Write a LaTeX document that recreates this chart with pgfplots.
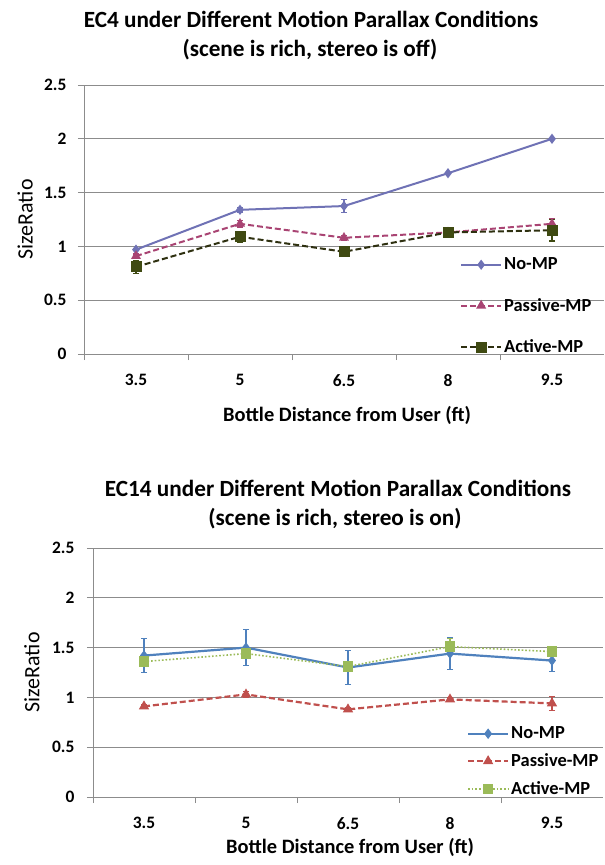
\documentclass[border=0pt]{standalone}
\usepackage{pgfplots}
\pgfplotsset{compat=1.18}
\usepackage{fontspec}
\setmainfont{Carlito}
\definecolor{tnomp}{HTML}{6F72B5}
\definecolor{tpas}{HTML}{A94473}
\definecolor{tact}{HTML}{2E3010}
\definecolor{tactm}{HTML}{3F4A12}
\definecolor{bnomp}{HTML}{4F81BD}
\definecolor{bpas}{HTML}{C0504D}
\definecolor{bact}{HTML}{9BBB59}
\definecolor{axgray}{HTML}{8C8C8C}
\newcommand\tklab[1]{\mbox{\fontsize{17.5}{20}\selectfont\bfseries #1}}

\pgfplotstableread{
x y e
0 0.97 0
1 1.34 0.02
2 1.375 0.06
3 1.68 0
4 2.00 0
}\topnomp
\pgfplotstableread{
x y e
0 0.91 0.02
1 1.21 0.03
2 1.08 0.02
3 1.13 0.02
4 1.21 0.05
}\toppas
\pgfplotstableread{
x y e
0 0.81 0.06
1 1.09 0.05
2 0.95 0.03
3 1.13 0.04
4 1.15 0.10
}\topact
\pgfplotstableread{
x y e
0 1.42 0.17
1 1.50 0.18
2 1.30 0.17
3 1.44 0.16
4 1.37 0.11
}\botnomp
\pgfplotstableread{
x y e
0 0.91 0.02
1 1.03 0.03
2 0.88 0.02
3 0.98 0.02
4 0.94 0.07
}\botpas
\pgfplotstableread{
x y e
0 1.36 0.03
1 1.44 0.03
2 1.31 0.03
3 1.51 0.08
4 1.46 0.03
}\botact

\pgfplotsset{
  common/.style={
    scale only axis,
    xmin=-0.5, xmax=4.5, ymin=0, ymax=2.5,
    xtick={0,1,2,3,4},
    xticklabels={\tklab{3.5},\tklab{5},\tklab{6.5},\tklab{8},\tklab{9.5}},
    major x tick style={draw=none},
    minor xtick={-0.5,0.5,1.5,2.5,3.5},
    minor x tick style={draw=axgray, line width=0.8bp},
    ytick={0,0.5,1,1.5,2,2.5},
    yticklabels={\tklab{0},\tklab{0.5},\tklab{1},\tklab{1.5},\tklab{2},\tklab{2.5}},
    major tick length=6bp, minor tick length=6bp,
    tick align=outside,
    ymajorgrids, grid style={draw=axgray, line width=0.8bp},
    axis x line*=bottom, axis y line*=left,
    axis line style={draw=axgray, line width=0.8bp, -},
    y tick style={draw=axgray, line width=0.8bp},
    /pgf/number format/assume math mode=true,
    xlabel style={font=\fontsize{20.5}{23}\selectfont\bfseries},
    ylabel style={font=\fontsize{22}{24}\selectfont},
    legend cell align=left,
    legend style={draw=none, fill=none, font=\fontsize{18.5}{21}\selectfont\bfseries},
    legend image code/.code={
      \draw[#1, mark=none] (0bp,0bp) -- (40bp,0bp);
      \draw[#1, solid] plot coordinates {(20bp,0bp)};
    },
    error bars/y dir=both, error bars/y explicit,
    error bars/error mark options={rotate=90, mark size=3bp, line width=1.3bp},
  },
  dsh/.style={dash pattern=on 6bp off 3bp},
}

\begin{document}
\begin{tikzpicture}
\useasboundingbox (0,0) rectangle (605bp,-865bp);

\node[font=\fontsize{23.3}{26}\selectfont\bfseries] at (311bp,-19bp) {EC4 under Different Motion Parallax Conditions};
\node[font=\fontsize{23.3}{26}\selectfont\bfseries] at (310bp,-50bp) {(scene is rich, stereo is off)};

\begin{axis}[common,
  at={(84bp,-354bp)}, anchor=south west,
  width=520bp, height=269bp,
  xticklabel style={yshift=-11bp},
  yticklabel style={xshift=-8bp},
  xlabel={Bottle Distance from User (ft)},
  xlabel style={at={(axis description cs:0.506,0)}, anchor=center, yshift=-61bp},
  ylabel={SizeRatio},
  ylabel style={at={(axis description cs:-0.113,0.5)}, anchor=center},
  legend style={at={(axis description cs:0.723,0.365)}, anchor=north west, row sep=23bp, inner sep=0pt},
]
\addplot[tnomp, line width=2bp, mark=diamond*, mark size=3.5bp, mark options={fill=tnomp, solid},
  error bars/error bar style={tnomp, line width=1.3bp, solid}]
  table[x=x, y=y, y error=e] {\topnomp};
\addlegendentry{No-MP}
\addplot[tpas, line width=2bp, dsh, mark=triangle*, mark size=3.8bp, mark options={fill=tpas, solid},
  error bars/error bar style={tpas, line width=1.3bp, solid}]
  table[x=x, y=y, y error=e] {\toppas};
\addlegendentry{Passive-MP}
\addplot[tact, line width=2bp, dsh, mark=square*, mark size=4.5bp, mark options={fill=tactm, draw=tactm, solid},
  error bars/error bar style={tactm, line width=1.3bp, solid}]
  table[x=x, y=y, y error=e] {\topact};
\addlegendentry{Active-MP}
\end{axis}

\node[font=\fontsize{23.3}{26}\selectfont\bfseries] at (338bp,-488bp) {EC14 under Different Motion Parallax Conditions};
\node[font=\fontsize{23.3}{26}\selectfont\bfseries] at (335bp,-519bp) {(scene is rich, stereo is on)};

\begin{axis}[common,
  at={(93bp,-797bp)}, anchor=south west,
  width=510bp, height=249bp,
  xticklabel style={yshift=-11bp},
  yticklabel style={xshift=-9bp},
  xlabel={Bottle Distance from User (ft)},
  xlabel style={at={(axis description cs:0.504,0)}, anchor=center, yshift=-50bp},
  ylabel={SizeRatio},
  ylabel style={at={(axis description cs:-0.12,0.5)}, anchor=center},
  legend style={at={(axis description cs:0.733,0.29)}, anchor=north west, row sep=9.5bp, inner sep=0pt},
]
\addplot[bnomp, line width=2.2bp, mark=diamond*, mark size=3.5bp, mark options={fill=bnomp, solid},
  error bars/error bar style={bnomp, line width=1.5bp, solid}]
  table[x=x, y=y, y error=e] {\botnomp};
\addlegendentry{No-MP}
\addplot[bpas, line width=2.2bp, dsh, mark=triangle*, mark size=3.8bp, mark options={fill=bpas, solid},
  error bars/error bar style={bpas, line width=1.5bp, solid}]
  table[x=x, y=y, y error=e] {\botpas};
\addlegendentry{Passive-MP}
\addplot[bact, line width=1.6bp, dotted, mark=square*, mark size=4.5bp, mark options={fill=bact, draw=bact, solid},
  error bars/error bar style={bact, line width=1.5bp, solid}]
  table[x=x, y=y, y error=e] {\botact};
\addlegendentry{Active-MP}
\end{axis}
\end{tikzpicture}
\end{document}
